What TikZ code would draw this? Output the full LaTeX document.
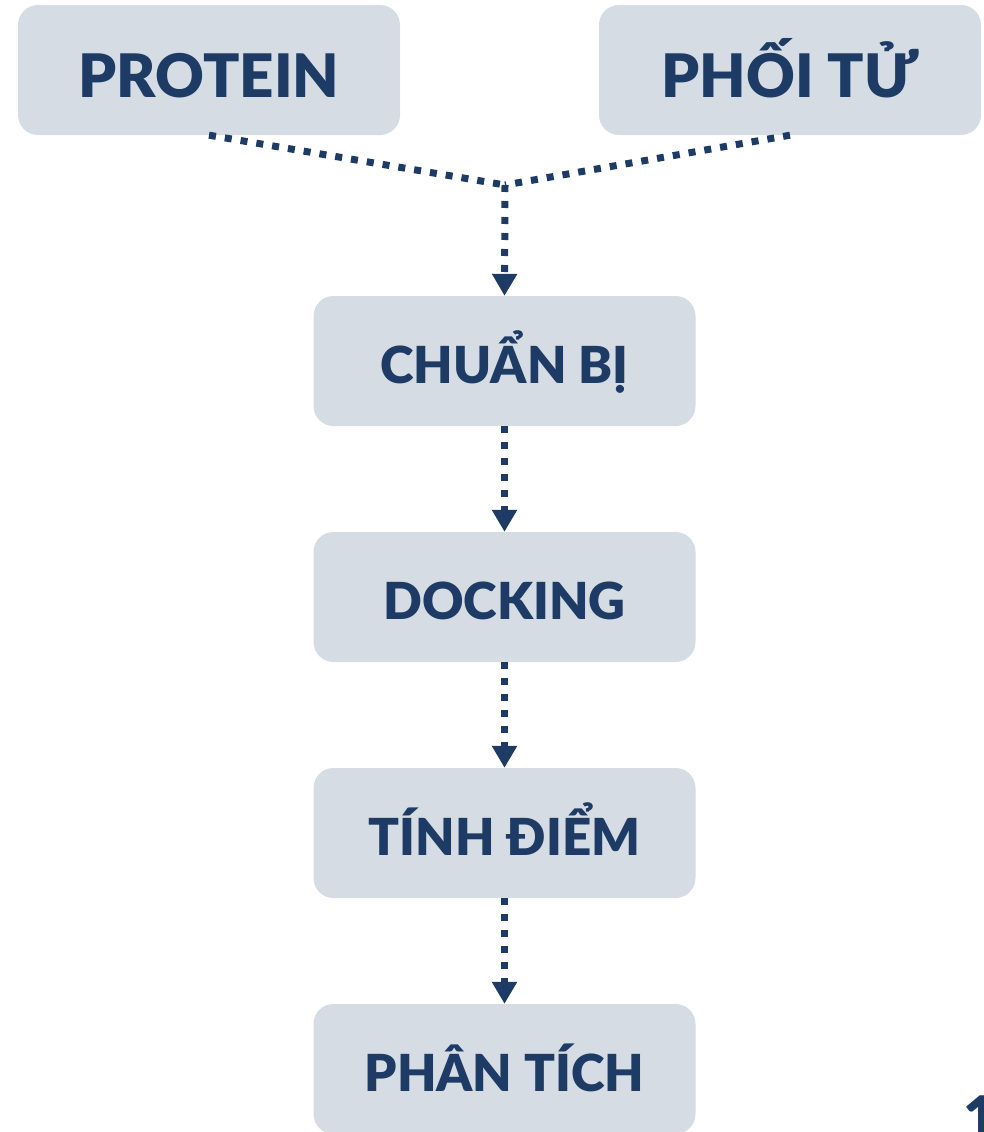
\documentclass[tikz,border=0pt]{standalone}
\usepackage{fontspec}
\setmainfont{Lato}
\newfontfamily\labfont{Lato Black}
\usetikzlibrary{arrows.meta}
\definecolor{boxfill}{HTML}{D5DCE3}
\definecolor{ink}{HTML}{1D3B65}
\begin{document}
\begin{tikzpicture}[x=1pt,y=-1pt,
  stage/.style={fill=boxfill, rounded corners=20pt, minimum width=382pt,
    minimum height=130pt, inner sep=0pt},
  biglabel/.style={text=ink, anchor=base, inner sep=0pt,
    font=\labfont\fontsize{60}{60}\selectfont},
  label/.style={text=ink, anchor=base, inner sep=0pt,
    font=\labfont\fontsize{51}{51}\selectfont},
  flow/.style={draw=ink, line width=7pt, dash pattern=on 7pt off 9pt},
  flowarrow/.style={flow, -{Triangle[width=24pt,length=22pt]}}]
\useasboundingbox (0,0) rectangle (983,1132);
\begin{scope}
\clip (0,0) rectangle (983,1132);
% stage boxes
\node[stage] (protein) at (209,70) {};
\node[stage] (ligand) at (790,70) {};
\node[stage] (prep) at (504.5,361) {};
\node[stage] (dock) at (504.5,597) {};
\node[stage] (score) at (504.5,833) {};
\node[stage] (anal) at (504.5,1069) {};
% stage labels, set on a common baseline per box
\node[biglabel] (proteintext) at (209,97) {PROTEIN};
\node[biglabel] (ligandtext) at (790,97) {PHỐI TỬ};
\node[label] (preptext) at (504.5,383) {CHUẨN BỊ};
\node[label] (docktext) at (504.5,619) {DOCKING};
\node[label] (scoretext) at (504.5,855) {TÍNH ĐIỂM};
\node[label] (analtext) at (504.5,1091) {PHÂN TÍCH};
% page number at the lower right
\node[text=ink, font=\labfont\fontsize{60}{60}\selectfont, anchor=north west, inner sep=0pt] (pagenum) at (963,1096) {1};
\end{scope}
% connectors
\coordinate (join) at (505,185);
\draw[flow] (protein.south) -- (join);
\draw[flow] (ligand.south) -- (join);
\draw[flowarrow] (join) -- (prep.north);
\draw[flowarrow] (prep.south) -- (dock.north);
\draw[flowarrow] (dock.south) -- (score.north);
\draw[flowarrow] (score.south) -- (anal.north);
\end{tikzpicture}
\end{document}
